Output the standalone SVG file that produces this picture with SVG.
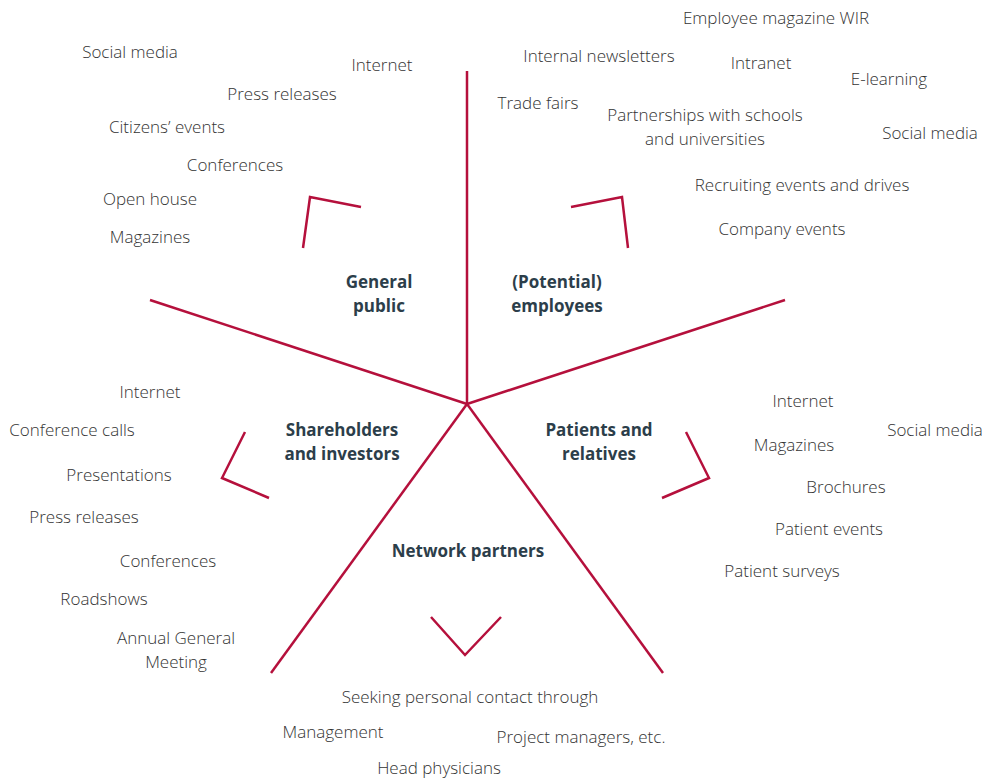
<svg xmlns="http://www.w3.org/2000/svg" width="985" height="778" viewBox="0 0 985 778">
<style>
.t{font-family:"Open Sans","Liberation Sans",sans-serif;font-size:17px;font-weight:300;fill:#333333;text-anchor:middle}
.h{font-family:"Open Sans","Liberation Sans",sans-serif;font-size:17px;font-weight:700;fill:#2c3e4a;text-anchor:middle}
.l{stroke:#b5103c;stroke-width:2.5;fill:none;stroke-linecap:butt;stroke-linejoin:miter}
</style>
<rect width="985" height="778" fill="#fff"/>
<g id="connectors">
<path class="l" d="M467,404 L467,71"/>
<path class="l" d="M467,404 L150,300"/>
<path class="l" d="M467,404 L785,300"/>
<path class="l" d="M467,404 L271,673"/>
<path class="l" d="M467,404 L663,673"/>
<path class="l" d="M303,248 L310,197 L361,207"/>
<path class="l" d="M571,207 L622,197 L628,248"/>
<path class="l" d="M245,432 L222,478 L269,498"/>
<path class="l" d="M686,432 L709,478 L662,498"/>
<path class="l" d="M431,617 L465,655 L501,617"/>
</g>
<g id="general-public">
<text class="h" x="379" y="288">General</text>
<text class="h" x="379" y="312">public</text>
<text class="t" x="130" y="58">Social media</text>
<text class="t" x="382" y="71">Internet</text>
<text class="t" x="282" y="100">Press releases</text>
<text class="t" x="167" y="133">Citizens’ events</text>
<text class="t" x="235" y="171">Conferences</text>
<text class="t" x="150" y="205">Open house</text>
<text class="t" x="150" y="243">Magazines</text>
</g>
<g id="employees">
<text class="h" x="557" y="288">(Potential)</text>
<text class="h" x="557" y="312">employees</text>
<text class="t" x="776" y="24">Employee magazine WIR</text>
<text class="t" x="599" y="62">Internal newsletters</text>
<text class="t" x="761" y="69">Intranet</text>
<text class="t" x="889" y="85">E-learning</text>
<text class="t" x="538" y="109">Trade fairs</text>
<text class="t" x="705" y="121">Partnerships with schools</text>
<text class="t" x="705" y="145">and universities</text>
<text class="t" x="930" y="139">Social media</text>
<text class="t" x="802" y="191">Recruiting events and drives</text>
<text class="t" x="782" y="235">Company events</text>
</g>
<g id="shareholders">
<text class="h" x="342" y="436">Shareholders</text>
<text class="h" x="342" y="460">and investors</text>
<text class="t" x="150" y="398">Internet</text>
<text class="t" x="72" y="436">Conference calls</text>
<text class="t" x="119" y="481">Presentations</text>
<text class="t" x="84" y="523">Press releases</text>
<text class="t" x="168" y="567">Conferences</text>
<text class="t" x="104" y="605">Roadshows</text>
<text class="t" x="176" y="644">Annual General</text>
<text class="t" x="176" y="668">Meeting</text>
</g>
<g id="patients">
<text class="h" x="599" y="436">Patients and</text>
<text class="h" x="599" y="460">relatives</text>
<text class="t" x="803" y="407">Internet</text>
<text class="t" x="935" y="436">Social media</text>
<text class="t" x="794" y="451">Magazines</text>
<text class="t" x="846" y="493">Brochures</text>
<text class="t" x="829" y="535">Patient events</text>
<text class="t" x="782" y="577">Patient surveys</text>
</g>
<g id="network-partners">
<text class="h" x="468" y="557">Network partners</text>
<text class="t" x="470" y="703">Seeking personal contact through</text>
<text class="t" x="333" y="738">Management</text>
<text class="t" x="581" y="743">Project managers, etc.</text>
<text class="t" x="439" y="774">Head physicians</text>
</g>
</svg>
